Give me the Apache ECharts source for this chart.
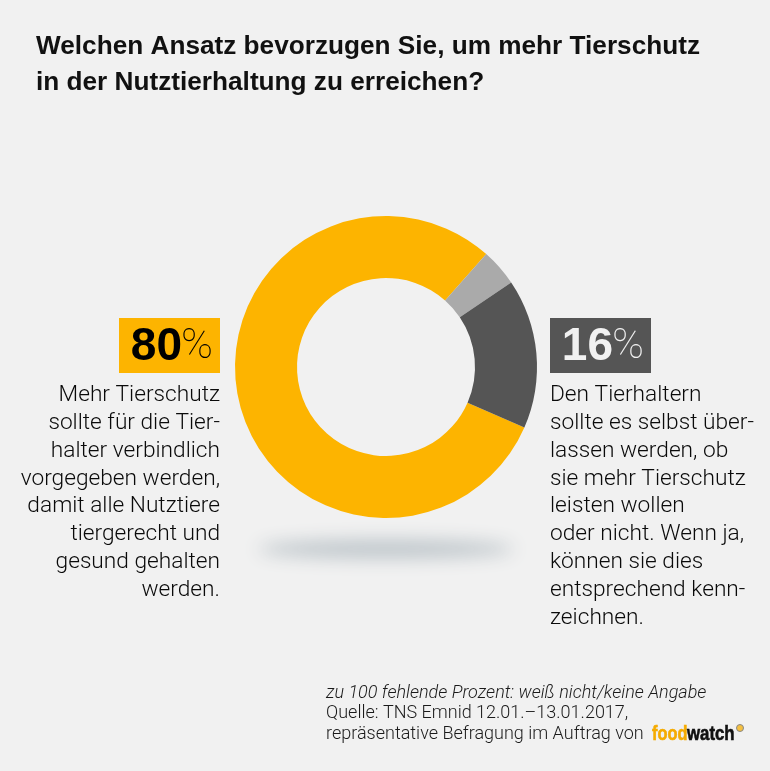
<!DOCTYPE html>
<html>
<head>
<meta charset="utf-8">
<style>html,body{margin:0;padding:0;background:#f1f1f1}#chart{width:770px;height:771px}</style>
<script src="https://cdn.jsdelivr.net/npm/echarts@6/dist/echarts.min.js"></script>
</head>
<body>
<div id="chart"></div>
<script>
var categories = ['Verbindlich vorgegeben', 'weiß nicht/keine Angabe', 'Selbst überlassen'];
var values = [80, 4, 16];
var colors = ['#fdb400', '#aaaaaa', '#555555'];

var titleLines = 'Welchen Ansatz bevorzugen Sie, um mehr Tierschutz\nin der Nutztierhaltung zu erreichen?';
var leftLines = ['Mehr Tierschutz', 'sollte für die Tier-', 'halter verbindlich', 'vorgegeben werden,', 'damit alle Nutztiere', 'tiergerecht und', 'gesund gehalten', 'werden.'];
var rightLines = ['Den Tierhaltern', 'sollte es selbst über-', 'lassen werden, ob', 'sie mehr Tierschutz', 'leisten wollen', 'oder nicht. Wenn ja,', 'können sie dies', 'entsprechend kenn-', 'zeichnen.'];
var noteLine = 'zu 100 fehlende Prozent: weiß nicht/keine Angabe';
var sourceLines = ['Quelle: TNS Emnid 12.01.–13.01.2017,', 'repräsentative Befragung im Auftrag von'];

var myChart = echarts.init(document.getElementById('chart'));
var bodyFont = 'Roboto';
var lineH = 27.8;

function textBlock(lines, x, y0, align) {
    return lines.map(function (s, i) {
        return {
            type: 'text', x: x, y: y0 + i * lineH,
            style: { text: s, align: align, verticalAlign: 'middle', font: '300 22.7px ' + bodyFont, fill: '#0a0a0a' }
        };
    });
}

// big percent: number bold, sign thin
function badge(x, color, txtColor, val) {
    return [
        { type: 'rect', shape: { x: x, y: 318, width: 101, height: 55 }, style: { fill: color } },
        { type: 'text', x: x + 63, y: 347, style: { text: String(val), align: 'right', verticalAlign: 'middle', font: 'bold 46px "Liberation Sans"', fill: txtColor } },
        { type: 'text', x: x + 62, y: 347, style: { text: '%', align: 'left', verticalAlign: 'middle', font: '100 43px Roboto', fill: txtColor } }
    ];
}

var elements = [
    // shadow below the ring, shape sits off canvas so only the blur shows
    { type: 'ellipse', shape: { cx: 386 - 1000, cy: 549, rx: 128, ry: 9 }, z: 0,
      style: { fill: '#bcc4c9', shadowBlur: 18, shadowOffsetX: 1000, shadowColor: '#bcc4c9' } },
    { type: 'text', x: 36, y: 29, style: { text: titleLines, font: 'bold 26.2px "Liberation Sans"', lineHeight: 36, fill: '#111111' } },
    { type: 'text', x: 326, y: 693, style: { text: noteLine, verticalAlign: 'middle', font: 'italic 300 18px ' + bodyFont, fill: '#1a1a1a' } },
    { type: 'text', x: 326, y: 713, style: { text: sourceLines[0], verticalAlign: 'middle', font: '300 18px ' + bodyFont, fill: '#1a1a1a' } },
    { type: 'text', x: 326, y: 734, style: { text: sourceLines[1], verticalAlign: 'middle', font: '300 18px ' + bodyFont, fill: '#1a1a1a' } },
    { type: 'text', x: 652, y: 734, scaleX: 0.78, style: { text: 'food', verticalAlign: 'middle', font: 'bold 21px "Liberation Sans"', fill: '#f5ab00', stroke: '#f5ab00', lineWidth: 0.6 } },
    { type: 'text', x: 687, y: 734, scaleX: 0.8, style: { text: 'watch', verticalAlign: 'middle', font: 'bold 21px "Liberation Sans"', fill: '#111111', stroke: '#111111', lineWidth: 0.6 } },
    { type: 'circle', shape: { cx: 740, cy: 728, r: 3.5 }, style: { fill: '#f5c040', stroke: '#888888', lineWidth: 1 } }
].concat(
    badge(119, colors[0], '#000000', values[0]),
    badge(550, colors[2], '#f1f1f1', values[2]),
    textBlock(leftLines, 220, 395.5, 'right'),
    textBlock(rightLines, 550, 395.5, 'left')
);

var option = {
    backgroundColor: '#f1f1f1',
    animation: false,
    graphic: { elements: elements },
    series: [
        {
            type: 'pie',
            center: [386, 367],
            radius: [89, 151],
            startAngle: -23.6,
            clockwise: true,
            silent: true,
            label: { show: false },
            labelLine: { show: false },
            data: categories.map(function (c, i) {
                return { name: c, value: values[i], itemStyle: { color: colors[i] } };
            })
        }
    ]
};

myChart.setOption(option);
</script>
</body>
</html>
